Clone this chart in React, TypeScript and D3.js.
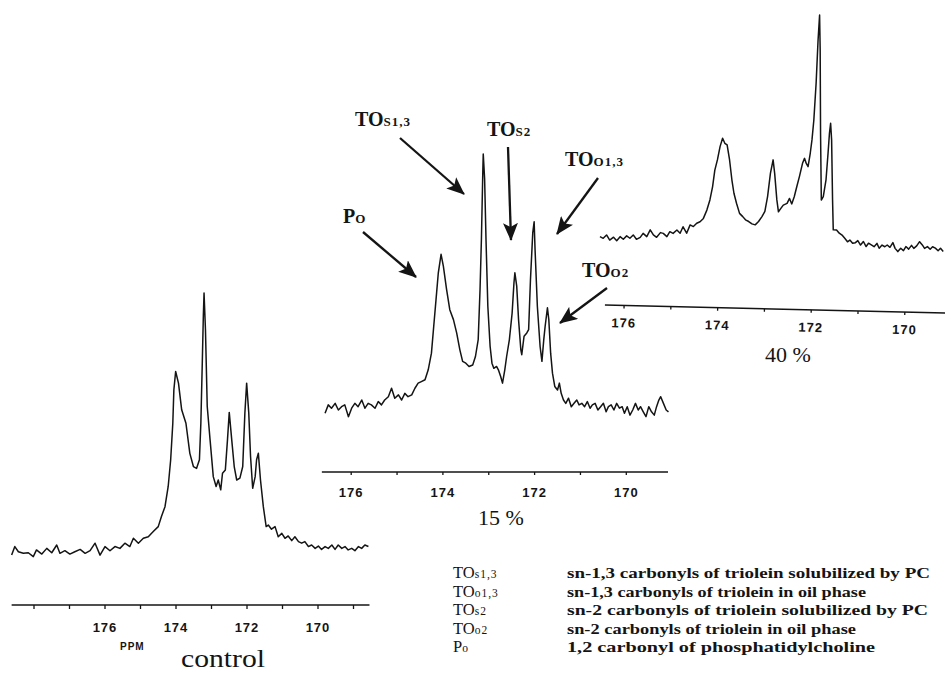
import React from "react";
import * as d3 from "d3";

const W = 945;
const H = 682;

// control spectrum: chemical shift (ppm) and relative intensity
const controlPpm = [
  178.63, 178.54, 178.44, 178.3, 178.16, 178.02, 177.93, 177.78, 177.64, 177.5,
  177.36, 177.27, 177.13, 176.99, 176.85, 176.7, 176.56, 176.42, 176.28, 176.14,
  176.0, 175.86, 175.72, 175.58, 175.44, 175.3, 175.2, 175.06, 174.92, 174.78,
  174.64, 174.5, 174.41, 174.31, 174.22, 174.15, 174.09, 174.06, 174.01, 173.93,
  173.84, 173.72, 173.61, 173.51, 173.42, 173.34, 173.3, 173.26, 173.23, 173.21,
  173.17, 173.12, 173.04, 172.95, 172.87, 172.81, 172.74, 172.69, 172.61, 172.55,
  172.5, 172.43, 172.36, 172.29, 172.2, 172.12, 172.06, 172.01, 171.95, 171.9,
  171.84, 171.77, 171.73, 171.68, 171.62, 171.54, 171.46, 171.4, 171.31, 171.21,
  171.12, 171.02, 170.93, 170.84, 170.74, 170.65, 170.55, 170.46, 170.37, 170.27,
  170.18, 170.08, 169.99, 169.9, 169.8, 169.71, 169.61, 169.52, 169.43, 169.33,
  169.24, 169.15, 169.05, 168.96, 168.86, 168.77, 168.68, 168.58,
];
const controlInt = [
  -1.2, 2.1, 0.1, -0.5, -0.3, -1.8, 0.8, -0.8, 1.4, -0.3,
  2.7, -0.5, 0.5, -0.8, 0.1, 1.0, -0.5, 0.5, 3.4, -1.2,
  2.1, 0.5, 2.1, 1.4, 3.4, 2.1, 5.3, 3.4, 5.3, 5.9,
  7.9, 9.8, 13.7, 17.5, 25.3, 35.6, 49.7, 62.6, 69.7, 65.2,
  54.9, 49.7, 38.1, 33.0, 32.3, 35.6, 49.7, 72.9, 91.0, 100,
  85.8, 56.2, 43.3, 29.1, 25.3, 27.8, 24.0, 30.4, 31.7, 43.3,
  53.9, 43.3, 33.0, 27.8, 28.5, 33.0, 53.6, 65.2, 53.6, 36.9,
  24.6, 29.1, 35.6, 38.1, 27.8, 17.5, 9.8, 10.4, 8.8, 9.8,
  5.9, 7.2, 5.3, 6.2, 4.4, 5.9, 4.0, 3.4, 4.0, 2.1,
  2.7, 1.4, 2.3, 1.0, 2.1, 1.4, 2.7, 1.0, 2.7, 1.4,
  2.1, 0.8, 1.4, 0.5, 2.1, 1.4, 2.7, 2.1,
];

// 15 % spectrum
const p15Ppm = [
  176.57, 176.5, 176.43, 176.35, 176.28, 176.21, 176.14, 176.06, 175.99, 175.92,
  175.85, 175.77, 175.7, 175.63, 175.56, 175.48, 175.41, 175.34, 175.27, 175.19,
  175.12, 175.05, 174.97, 174.9, 174.83, 174.76, 174.68, 174.61, 174.54, 174.47,
  174.39, 174.32, 174.25, 174.2, 174.15, 174.1, 174.04, 173.99, 173.92, 173.85,
  173.77, 173.7, 173.63, 173.57, 173.5, 173.43, 173.35, 173.29, 173.23, 173.19,
  173.16, 173.13, 173.12, 173.09, 173.06, 173.02, 172.97, 172.93, 172.89, 172.83,
  172.79, 172.74, 172.7, 172.65, 172.61, 172.55, 172.49, 172.45, 172.43, 172.39,
  172.35, 172.3, 172.28, 172.23, 172.17, 172.13, 172.09, 172.04, 172.01, 171.99,
  171.94, 171.88, 171.84, 171.8, 171.77, 171.72, 171.69, 171.65, 171.61, 171.56,
  171.5, 171.46, 171.42, 171.37, 171.32, 171.26, 171.2, 171.14, 171.08, 171.03,
  170.97, 170.91, 170.85, 170.79, 170.74, 170.68, 170.62, 170.56, 170.5, 170.44,
  170.39, 170.33, 170.27, 170.21, 170.15, 170.09, 170.04, 169.98, 169.92, 169.86,
  169.8, 169.74, 169.69, 169.63, 169.57, 169.51, 169.45, 169.39, 169.34, 169.29,
  169.25, 169.19, 169.13, 169.08,
];
const p15Int = [
  -1.3, 2.0, 0.7, 2.6, 0, 1.3, 2.0, -2.6, 0.7, 2.6,
  1.3, 3.9, 0.7, 2.6, 2.0, 0.7, 3.3, 2.0, 3.9, 5.2,
  8.5, 4.6, 5.9, 3.9, 6.5, 5.2, 5.9, 8.5, 10.5, 11.1,
  11.8, 15.7, 22.2, 32.7, 43.1, 53.6, 60.8, 56.2, 47.1, 39.2,
  35.3, 30.1, 23.5, 19.0, 18.3, 17.0, 17.6, 20.9, 27.5, 47.1,
  66.7, 92.8, 100, 90.2, 66.7, 40.5, 24.8, 18.3, 16.3, 17.0,
  15.7, 13.1, 10.5, 15.7, 20.9, 27.5, 37.9, 49.7, 53.6, 48.4,
  35.3, 23.5, 21.6, 28.8, 30.1, 31.4, 51.0, 69.3, 73.5, 62.7,
  40.5, 24.8, 19.0, 27.5, 32.7, 39.9, 35.3, 22.2, 14.4, 9.2,
  7.8, 10.5, 6.5, 3.9, 2.6, 4.6, 1.3, 2.6, 3.9, 2.0,
  2.6, 1.3, 3.3, 0.7, 2.0, 2.6, 0, 1.3, 2.6, -0.7,
  1.3, 2.0, 0, 2.6, 0.7, 1.3, -1.3, 1.3, -2.0, 0,
  2.6, 0, 1.3, -0.7, -2.6, 1.3, -0.7, -2.0, 1.3, 3.9,
  5.2, 2.6, 0, -0.7,
];

// 40 % spectrum
const p40Ppm = [
  176.55, 176.48, 176.41, 176.34, 176.26, 176.19, 176.12, 176.05, 175.98, 175.91,
  175.84, 175.77, 175.69, 175.63, 175.55, 175.48, 175.41, 175.34, 175.26, 175.2,
  175.12, 175.06, 174.99, 174.91, 174.84, 174.78, 174.7, 174.63, 174.56, 174.49,
  174.42, 174.35, 174.28,
  174.22, 174.17, 174.13, 174.08, 174.03, 173.98, 173.93, 173.88, 173.82, 173.76,
  173.71, 173.65, 173.58, 173.51, 173.45, 173.38, 173.31, 173.24, 173.17, 173.1,
  173.04, 172.99, 172.94, 172.89, 172.85, 172.79, 172.75, 172.7, 172.65, 172.57,
  172.52, 172.47, 172.42, 172.37, 172.32, 172.26, 172.22, 172.18, 172.14, 172.1,
  172.07, 172.04, 172.01, 171.99, 171.97, 171.94, 171.89, 171.84, 171.8, 171.75,
  171.72, 171.7, 171.68, 171.65, 171.6, 171.57,
  171.5, 171.44, 171.38, 171.32, 171.26, 171.21, 171.15, 171.09, 171.04, 170.98,
  170.92, 170.86, 170.81, 170.75, 170.69, 170.63, 170.58, 170.52, 170.46, 170.41,
  170.35, 170.29, 170.24, 170.18, 170.12, 170.06, 170.01, 169.95, 169.89, 169.84,
  169.78, 169.72, 169.66, 169.61, 169.55, 169.49, 169.44, 169.38, 169.32, 169.27,
  169.21,
];
const p40Int = [
  0.1, -0.6, 0.9, -1.3, 0, -1.5, 0.3, -0.8, 0.7, -0.3,
  1.2, -0.7, 0.2, 2.0, 0.6, 3.6, 1.4, 0.4, 2.5, 2.2,
  0.8, 3.0, 2.3, 3.8, 2.4, 5.3, 2.5, 6.2, 5.5, 7.0,
  7.7, 9.2, 12.9,
  17.4, 23.2, 30.6, 35.1, 41.0, 44.7, 42.5, 41.8, 35.2, 26.4,
  20.6, 16.2, 11.8, 10.4, 9.0, 8.3, 7.3, 6.9, 8.4, 10.6,
  12.9, 19.5, 29.8, 35.7, 29.8, 18.1, 12.9, 14.4, 15.9, 16.7,
  18.9, 16.5, 19.7, 24.2, 28.6, 34.5, 36.7, 34.5, 33.1, 39.0,
  44.9, 53.7, 69.9, 88.9, 100, 84.6, 47.9, 18.5, 20.0, 27.4,
  39.2, 48.0, 52.4, 45.0, 18.7, 5.5,
  5.5, 4.1, 3.3, 1.9, 0.4, 1.2, -0.2, 0.1, 1.0, -0.9,
  0.7, -1.5, 0, -0.7, -1.5, 0, -2.1, -0.7, -1.4, -0.6,
  -1.6, 0.5, -2.0, -3.4, -1.9, -2.9, -1.1, -2.2, -0.5, -1.8,
  -0.7, 1.2, -0.2, -1.7, -0.9, -2.0, -0.9, -1.5, -2.6, -1.5,
  -2.9,
];

const tickLabels = [176, 174, 172, 170];

const legendMain = ["TO", "TO", "TO", "TO", "P"];
const legendSub = ["s1,3", "o1,3", "s2", "o2", "o"];
const legendText = [
  "sn-1,3 carbonyls of triolein solubilized by PC",
  "sn-1,3 carbonyls of triolein in oil phase",
  "sn-2 carbonyls of triolein solubilized by PC",
  "sn-2 carbonyls of triolein in oil phase",
  "1,2 carbonyl of phosphatidylcholine",
];
const legendWidths = [363, 299, 361, 289, 308];

const SERIF = "'Liberation Serif', 'DejaVu Serif', serif";
const SANS = "'Liberation Sans', Arial, sans-serif";
const INK = "#141414";

type Scale = d3.ScaleLinear<number, number>;

function Spectrum({ ppm, inten, x, y }: { ppm: number[]; inten: number[]; x: Scale; y: Scale }) {
  const line = d3
    .line<number>()
    .x((d, i) => x(ppm[i]))
    .y((d) => y(d));
  return (
    <path d={line(inten) || ""} fill="none" stroke={INK} strokeWidth={1.5} strokeLinejoin="round" />
  );
}

function PpmAxis({ x, y0, from, to, labelDy, tickLen }: { x: Scale; y0: number; from: number; to: number; labelDy: number; tickLen: number }) {
  const ticks = d3.range(Math.ceil(to), Math.floor(from) + 1);
  return (
    <g>
      <line x1={x(from)} x2={x(to)} y1={y0} y2={y0} stroke={INK} strokeWidth={1.5} />
      {ticks.map((t) => (
        <line key={t} x1={x(t)} x2={x(t)} y1={y0} y2={y0 + tickLen} stroke={INK} strokeWidth={1.3} />
      ))}
      {tickLabels.map((t) => (
        <text
          key={t}
          x={x(t)}
          y={y0 + labelDy}
          textAnchor="middle"
          fontFamily={SANS}
          fontWeight="bold"
          fontSize={13}
          letterSpacing={1}
          fill={INK}
        >
          {t}
        </text>
      ))}
    </g>
  );
}

function SubLabel({ x, y, main, sub, size, subSize, bold }: { x: number; y: number; main: string; sub: string; size: number; subSize: number; bold?: boolean }) {
  return (
    <text x={x} y={y} fontFamily={SERIF} fontWeight={bold ? "bold" : "normal"} fill={INK}>
      <tspan fontSize={size}>{main}</tspan>
      <tspan fontSize={subSize} letterSpacing={1}>
        {sub}
      </tspan>
    </text>
  );
}

// annotation arrows on the 15 % spectrum: label anchor and arrow line
const arrows = [
  { main: "P", sub: "O", lx: 343, ly: 223, x1: 363, y1: 232, x2: 416, y2: 277 },
  { main: "TO", sub: "S1,3", lx: 355, ly: 126, x1: 400, y1: 138, x2: 464, y2: 194 },
  { main: "TO", sub: "S2", lx: 487, ly: 136, x1: 508, y1: 147, x2: 511, y2: 240 },
  { main: "TO", sub: "O1,3", lx: 565, ly: 166, x1: 598, y1: 178, x2: 557, y2: 234 },
  { main: "TO", sub: "O2", lx: 582, ly: 277, x1: 607, y1: 288, x2: 560, y2: 323 },
];

export default function App() {
  // control panel
  const xC = d3.scaleLinear().domain([176, 170]).range([105, 318]);
  const yC = d3.scaleLinear().domain([0, 100]).range([552, 293]);
  // 15 % panel
  const x15 = d3.scaleLinear().domain([176, 170]).range([351.2, 626.3]);
  const y15 = d3.scaleLinear().domain([0, 100]).range([410, 154]);
  // 40 % panel (scanned slightly tilted)
  const x40 = d3.scaleLinear().domain([176, 170]).range([624.1, 904.9]);
  const y40 = d3.scaleLinear().domain([0, 100]).range([237, 10]);

  return (
    <svg
      width={W}
      height={H}
      viewBox={`0 0 ${W} ${H}`}
      style={{ position: "absolute", left: 0, top: 0, background: "#fff" }}
    >
      <defs>
        <marker
          id="head"
          markerUnits="userSpaceOnUse"
          markerWidth={19}
          markerHeight={15}
          refX={17}
          refY={7.5}
          orient="auto"
        >
          <path d="M0,0 L18,7.5 L0,15 L4,7.5 Z" fill={INK} />
        </marker>
      </defs>

      {/* control */}
      <Spectrum ppm={controlPpm} inten={controlInt} x={xC} y={yC} />
      <PpmAxis x={xC} y0={605} from={178.63} to={168.55} labelDy={27} tickLen={4} />
      <text x={120} y={650} fontFamily={SANS} fontWeight="bold" fontSize={10} letterSpacing={1} fill={INK}>
        PPM
      </text>
      <text x={181} y={667} fontFamily={SERIF} fontSize={25} textLength={84} lengthAdjust="spacingAndGlyphs" fill={INK}>
        control
      </text>

      {/* 15 % */}
      <Spectrum ppm={p15Ppm} inten={p15Int} x={x15} y={y15} />
      <PpmAxis x={x15} y0={472} from={176.64} to={169.09} labelDy={25} tickLen={3} />
      <text x={478} y={525} fontFamily={SERIF} fontSize={22} fill={INK}>
        15 %
      </text>

      {/* 40 % */}
      <g transform="rotate(1.35 605 305)">
        <Spectrum ppm={p40Ppm} inten={p40Int} x={x40} y={y40} />
        <PpmAxis x={x40} y0={305} from={176.41} to={169.14} labelDy={22} tickLen={3} />
      </g>
      <text x={765} y={362} fontFamily={SERIF} fontSize={22} fill={INK}>
        40 %
      </text>

      {/* peak annotations */}
      {arrows.map((a, i) => (
        <g key={i}>
          <line
            x1={a.x1}
            y1={a.y1}
            x2={a.x2}
            y2={a.y2}
            stroke={INK}
            strokeWidth={2.3}
            markerEnd="url(#head)"
          />
          <SubLabel x={a.lx} y={a.ly} main={a.main} sub={a.sub} size={20} subSize={13} bold />
        </g>
      ))}

      {/* legend */}
      {legendText.map((t, i) => {
        const by = 578 + i * 18.5;
        return (
          <g key={i}>
            <SubLabel x={453} y={by} main={legendMain[i]} sub={legendSub[i]} size={16.5} subSize={11.5} />
            <text
              x={567}
              y={by}
              fontFamily={SERIF}
              fontWeight="bold"
              fontSize={14.5}
              textLength={legendWidths[i]}
              lengthAdjust="spacingAndGlyphs"
              fill={INK}
            >
              {t}
            </text>
          </g>
        );
      })}
    </svg>
  );
}
